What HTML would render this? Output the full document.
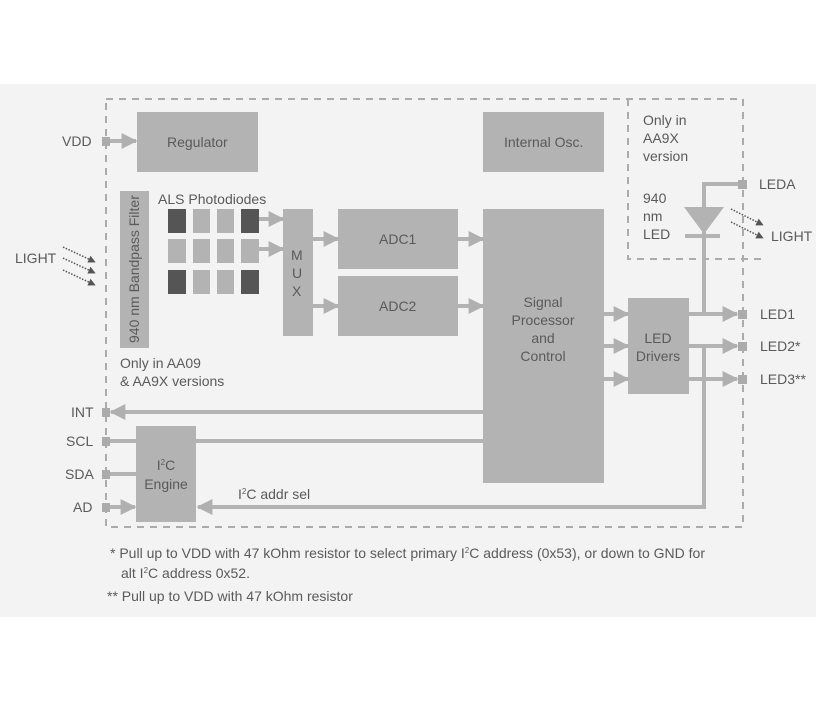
<!DOCTYPE html>
<html><head><style>
body{margin:0;background:#fff;}
svg text{font-family:"Liberation Sans",sans-serif;fill:#5a5a5a;}
</style></head><body>
<svg width="820" height="700" viewBox="0 0 820 700" xmlns="http://www.w3.org/2000/svg">
<defs>
<marker id="a" viewBox="0 0 10 10" refX="9" refY="5" markerWidth="4" markerHeight="4" orient="auto"><path d="M0,0 L10,5 L0,10 z" fill="#b0b0b0"/></marker>
<marker id="d" viewBox="0 0 10 10" refX="9" refY="5" markerWidth="5" markerHeight="5" orient="auto"><path d="M0,0 L10,5 L0,10 z" fill="#555"/></marker>
</defs>
<rect x="0" y="84" width="816" height="533" fill="#f3f3f3"/>
<g fill="none" stroke="#ababab" stroke-width="2" stroke-dasharray="7,6">
<rect x="106" y="99" width="637" height="428"/>
<polyline points="628,99 628,259 767,259"/>
</g>
<g fill="#b3b3b3">
<rect x="137" y="112" width="121" height="60"/>
<rect x="483" y="112" width="121" height="60"/>
<rect x="120" y="191" width="29" height="157"/>
<rect x="283" y="209" width="30" height="127"/>
<rect x="338" y="209" width="120" height="60"/>
<rect x="338" y="276" width="120" height="60"/>
<rect x="483" y="209" width="121" height="274"/>
<rect x="628" y="298" width="61" height="96"/>
<rect x="136" y="426" width="60" height="96"/>
</g>
<g>
<rect x="168" y="209" width="18" height="24" fill="#555"/><rect x="193" y="209" width="17" height="24" fill="#b3b3b3"/><rect x="217" y="209" width="17" height="24" fill="#b3b3b3"/><rect x="241" y="209" width="18" height="24" fill="#555"/>
<rect x="168" y="239" width="18" height="24" fill="#b3b3b3"/><rect x="193" y="239" width="17" height="24" fill="#b3b3b3"/><rect x="217" y="239" width="17" height="24" fill="#b3b3b3"/><rect x="241" y="239" width="18" height="24" fill="#b3b3b3"/>
<rect x="168" y="270" width="18" height="24" fill="#555"/><rect x="193" y="270" width="17" height="24" fill="#b3b3b3"/><rect x="217" y="270" width="17" height="24" fill="#b3b3b3"/><rect x="241" y="270" width="18" height="24" fill="#555"/>
</g>
<g stroke="#b3b3b3" stroke-width="4" fill="none">
<line x1="110" y1="141" x2="136" y2="141" marker-end="url(#a)"/>
<line x1="259" y1="219" x2="283" y2="219" marker-end="url(#a)"/>
<line x1="259" y1="249" x2="283" y2="249" marker-end="url(#a)"/>
<line x1="313" y1="239" x2="338" y2="239" marker-end="url(#a)"/>
<line x1="313" y1="306" x2="338" y2="306" marker-end="url(#a)"/>
<line x1="458" y1="239" x2="483" y2="239" marker-end="url(#a)"/>
<line x1="458" y1="306" x2="483" y2="306" marker-end="url(#a)"/>
<line x1="604" y1="314" x2="628" y2="314" marker-end="url(#a)"/>
<line x1="604" y1="346" x2="628" y2="346" marker-end="url(#a)"/>
<line x1="604" y1="379" x2="628" y2="379" marker-end="url(#a)"/>
<line x1="689" y1="314" x2="737" y2="314" marker-end="url(#a)"/>
<line x1="689" y1="346" x2="737" y2="346" marker-end="url(#a)"/>
<line x1="689" y1="379" x2="737" y2="379" marker-end="url(#a)"/>
<polyline points="738,184 704,184 704,314"/>
<polyline points="704,346 704,507 198,507" marker-end="url(#a)"/>
<line x1="483" y1="412" x2="111" y2="412" marker-end="url(#a)"/>
<line x1="110" y1="441" x2="483" y2="441"/>
<line x1="110" y1="474" x2="136" y2="474"/>
<line x1="110" y1="507" x2="135" y2="507" marker-end="url(#a)"/>
<line x1="685" y1="236" x2="720" y2="236"/>
</g>
<polygon points="684,207 724,207 704,234" fill="#b3b3b3"/>
<g fill="#ababab">
<rect x="102" y="137" width="8" height="9"/>
<rect x="738" y="180" width="9" height="9"/>
<rect x="738" y="310" width="9" height="9"/>
<rect x="738" y="342" width="9" height="9"/>
<rect x="738" y="375" width="9" height="9"/>
<rect x="102" y="408" width="8" height="9"/>
<rect x="102" y="437" width="8" height="9"/>
<rect x="102" y="470" width="8" height="9"/>
<rect x="102" y="503" width="8" height="9"/>
</g>
<g stroke="#555" stroke-width="1.5" stroke-dasharray="1.5,1.5" fill="none">
<line x1="63" y1="247" x2="95" y2="262" marker-end="url(#d)"/>
<line x1="63" y1="258" x2="95" y2="273" marker-end="url(#d)"/>
<line x1="63" y1="270" x2="95" y2="285" marker-end="url(#d)"/>
<line x1="731" y1="209" x2="763" y2="225" marker-end="url(#d)"/>
<line x1="731" y1="222" x2="763" y2="238" marker-end="url(#d)"/>
</g>
<g font-size="14">
<text x="62" y="146">VDD</text>
<text x="167" y="147">Regulator</text>
<text x="504" y="147">Internal Osc.</text>
<text x="643" y="125">Only in</text>
<text x="643" y="143">AA9X</text>
<text x="643" y="161">version</text>
<text x="643" y="203">940</text>
<text x="643" y="221">nm</text>
<text x="643" y="239">LED</text>
<text x="759" y="189">LEDA</text>
<text x="771" y="241">LIGHT</text>
<text x="15" y="263">LIGHT</text>
<text x="158" y="204">ALS Photodiodes</text>
<text transform="translate(139,343) rotate(-90)">940 nm Bandpass Filter</text>
<text x="291" y="260">M</text><text x="292" y="278">U</text><text x="292" y="296">X</text>
<text x="379" y="244">ADC1</text>
<text x="379" y="311">ADC2</text>
<text x="543" y="307" text-anchor="middle">Signal</text>
<text x="543" y="325" text-anchor="middle">Processor</text>
<text x="543" y="343" text-anchor="middle">and</text>
<text x="543" y="361" text-anchor="middle">Control</text>
<text x="658" y="343" text-anchor="middle">LED</text>
<text x="658" y="361" text-anchor="middle">Drivers</text>
<text x="760" y="319">LED1</text>
<text x="760" y="351">LED2*</text>
<text x="760" y="384">LED3**</text>
<text x="120" y="368">Only in AA09</text>
<text x="120" y="386">&amp; AA9X versions</text>
<text x="71" y="417">INT</text>
<text x="66" y="446">SCL</text>
<text x="65" y="479">SDA</text>
<text x="73" y="512">AD</text>
<text x="166" y="470" text-anchor="middle">I<tspan font-size="8" dy="-5">2</tspan><tspan dy="5">C</tspan></text>
<text x="166" y="489" text-anchor="middle">Engine</text>
<text x="238" y="499">I<tspan font-size="8" dy="-5">2</tspan><tspan dy="5">C addr sel</tspan></text>
</g>
<g font-size="14">
<text x="110" y="558">*  Pull up to VDD with 47 kOhm resistor to select primary I<tspan font-size="8" dy="-5">2</tspan><tspan dy="5">C address (0x53), or down to GND for</tspan></text>
<text x="121" y="578">alt I<tspan font-size="8" dy="-5">2</tspan><tspan dy="5">C address 0x52.</tspan></text>
<text x="107" y="601">** Pull up to VDD with 47 kOhm resistor</text>
</g>
</svg>
</body></html>
